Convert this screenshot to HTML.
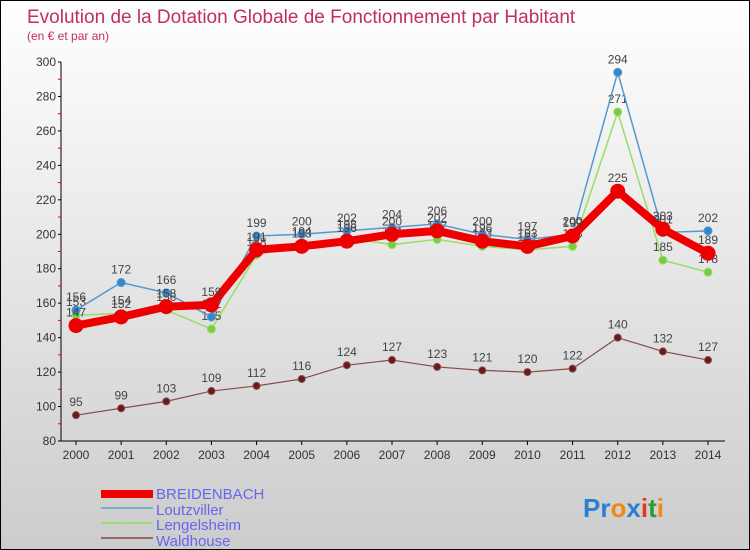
<!DOCTYPE html>
<html><head><meta charset="utf-8"><style>
body{margin:0}
#wrap{width:750px;height:550px;position:relative;overflow:hidden;box-sizing:border-box;border:1px solid #000;background:linear-gradient(#fff,#ccc);font-family:"Liberation Sans",sans-serif}
</style></head><body>
<div id="wrap">
<svg id="svg" width="750" height="550" style="position:absolute;left:0;top:0">
<text x="26" y="22" font-size="19" fill="#c0305a">Evolution de la Dotation Globale de Fonctionnement par Habitant</text>
<text x="26" y="39" font-size="12" fill="#c0305a">(en € et par an)</text>
<g id="axes"></g><g id="series"></g>
<g>
<rect x="100" y="489" width="52" height="8" fill="#e00"/>
<text x="155" y="498" font-size="15" fill="#6666ee">BREIDENBACH</text>
<rect x="100" y="506" width="52" height="2" fill="#7aaed0"/>
<text x="155" y="514" font-size="15" fill="#6666ee">Loutzviller</text>
<rect x="100" y="521" width="52" height="2" fill="#99dd77"/>
<text x="155" y="529" font-size="15" fill="#6666ee">Lengelsheim</text>
<rect x="100" y="536" width="52" height="2" fill="#996666"/>
<text x="155" y="545" font-size="15" fill="#6666ee">Waldhouse</text>
</g>
<text x="582" y="516" font-size="26" font-weight="bold"><tspan fill="#2a7fd0">Pr</tspan><tspan fill="#f08a10">o</tspan><tspan fill="#2a7fd0">x</tspan><tspan fill="#e03a1a">i</tspan><tspan fill="#2a9a3a">t</tspan><tspan fill="#f08a10">i</tspan></text>
</svg>
</div>
<script>
const years=[2000,2001,2002,2003,2004,2005,2006,2007,2008,2009,2010,2011,2012,2013,2014];
const breidenbach=[147,152,158,159,191,193,196,200,202,196,193,199,225,203,189];
const loutzviller=[156,172,166,152,199,200,202,204,206,200,197,200,294,201,202];
const lengelsheim=[153,154,156,145,188,194,198,194,197,193,191,193,271,185,178];
const waldhouse=[95,99,103,109,112,116,124,127,123,121,120,122,140,132,127];
const yTicks=[80,100,120,140,160,180,200,220,240,260,280,300];
const NS="http://www.w3.org/2000/svg";
const X=i=>75+i*(707-75)/14;
const Y=v=>440-(v-80)*(440-61)/220;
function mk(tag,attrs,parent,txt){const e=document.createElementNS(NS,tag);for(const k in attrs)e.setAttribute(k,attrs[k]);if(txt!==undefined)e.textContent=txt;parent.appendChild(e);return e;}
const ax=document.getElementById('axes');
let a=mk('line',{x1:60,y1:61,x2:60,y2:440,stroke:'#000'},ax);

a=mk('line',{x1:60,y1:440,x2:724,y2:440,stroke:'#000'},ax);

yTicks.forEach(v=>{mk('line',{x1:57,y1:Y(v),x2:60,y2:Y(v),stroke:'#000'},ax);
 if(v<300)mk('line',{x1:57,y1:Y(v+10),x2:60,y2:Y(v+10),stroke:'#e00'},ax);
 const t=mk('text',{x:55,y:Y(v)+4,'font-size':12,fill:'#333','text-anchor':'end'},ax,v);
 });
years.forEach((y,i)=>{mk('line',{x1:X(i),y1:440,x2:X(i),y2:444,stroke:'#000'},ax);
 const t=mk('text',{x:X(i),y:458,'font-size':12,fill:'#333','text-anchor':'middle'},ax,y);
 });
const sg=document.getElementById('series');
function series(name,data,color,lw,r,fill,lbl){
 const g=mk('g',{},sg);
 
 mk('polyline',{points:data.map((v,i)=>X(i)+','+Y(v)).join(' '),fill:'none',stroke:color,'stroke-width':lw,'stroke-linejoin':'round'},g);
 data.forEach((v,i)=>{const c=mk('circle',{cx:X(i),cy:Y(v),r:r,fill:fill,stroke:color,'stroke-width':1},g);
  
  if(lbl){const t=mk('text',{x:X(i),y:Y(v)-9,'font-size':12,fill:'#444','text-anchor':'middle'},g,v);
  }});
}
series('waldhouse',waldhouse,'#8a4a4a',1.2,3.5,'#6a1a1a',true);
series('lengelsheim',lengelsheim,'#99dd66',1.5,4,'#77cc44',true);
series('loutzviller',loutzviller,'#5599cc',1.5,4,'#3388cc',true);
series('breidenbach',breidenbach,'#ee0000',8,7,'#ee0000',true);
</script>
</body></html>
